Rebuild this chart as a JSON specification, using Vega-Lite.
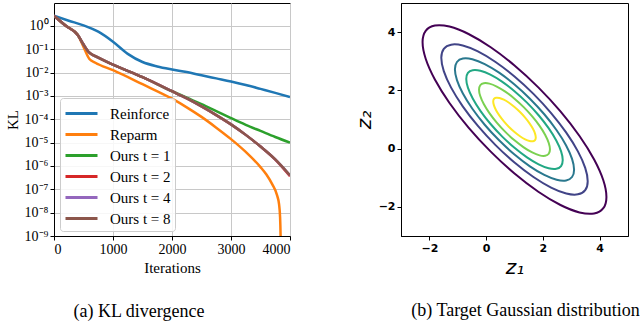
{
  "$schema": "https://vega.github.io/schema/vega-lite/v6.json",
  "background": "white",
  "padding": {"left": 4, "top": 2, "right": 0, "bottom": 0},
  "spacing": 62,
  "resolve": {"scale": {"color": "independent"}, "legend": {"color": "independent"}},
  "datasets": {
    "kl": [
      {"iter": 0, "kl": 2.69, "method": "Reinforce"},
      {"iter": 250, "kl": 1.66, "method": "Reinforce"},
      {"iter": 500, "kl": 1.05, "method": "Reinforce"},
      {"iter": 750, "kl": 0.562, "method": "Reinforce"},
      {"iter": 1000, "kl": 0.209, "method": "Reinforce"},
      {"iter": 1250, "kl": 0.0631, "method": "Reinforce"},
      {"iter": 1500, "kl": 0.0282, "method": "Reinforce"},
      {"iter": 1750, "kl": 0.0182, "method": "Reinforce"},
      {"iter": 2000, "kl": 0.0135, "method": "Reinforce"},
      {"iter": 2250, "kl": 0.0105, "method": "Reinforce"},
      {"iter": 2500, "kl": 0.00759, "method": "Reinforce"},
      {"iter": 2750, "kl": 0.00562, "method": "Reinforce"},
      {"iter": 3000, "kl": 0.00417, "method": "Reinforce"},
      {"iter": 3250, "kl": 0.00295, "method": "Reinforce"},
      {"iter": 3500, "kl": 0.002, "method": "Reinforce"},
      {"iter": 3750, "kl": 0.00135, "method": "Reinforce"},
      {"iter": 4000, "kl": 0.000891, "method": "Reinforce"},

      {"iter": 0, "kl": 2.69, "method": "Reparm"},
      {"iter": 200, "kl": 1.0, "method": "Reparm"},
      {"iter": 400, "kl": 0.417, "method": "Reparm"},
      {"iter": 500, "kl": 0.126, "method": "Reparm"},
      {"iter": 600, "kl": 0.038, "method": "Reparm"},
      {"iter": 700, "kl": 0.0263, "method": "Reparm"},
      {"iter": 1000, "kl": 0.0126, "method": "Reparm"},
      {"iter": 1500, "kl": 0.00316, "method": "Reparm"},
      {"iter": 2000, "kl": 0.000759, "method": "Reparm"},
      {"iter": 2250, "kl": 0.000324, "method": "Reparm"},
      {"iter": 2500, "kl": 0.000126, "method": "Reparm"},
      {"iter": 2750, "kl": 4.37e-5, "method": "Reparm"},
      {"iter": 3000, "kl": 1.41e-5, "method": "Reparm"},
      {"iter": 3250, "kl": 3.98e-6, "method": "Reparm"},
      {"iter": 3500, "kl": 8.91e-7, "method": "Reparm"},
      {"iter": 3600, "kl": 4.27e-7, "method": "Reparm"},
      {"iter": 3700, "kl": 1.62e-7, "method": "Reparm"},
      {"iter": 3780, "kl": 5.62e-8, "method": "Reparm"},
      {"iter": 3815, "kl": 2.24e-8, "method": "Reparm"},
      {"iter": 3832, "kl": 6.31e-9, "method": "Reparm"},
      {"iter": 3842, "kl": 6.31e-10, "method": "Reparm"},
      {"iter": 3846, "kl": 1e-10, "method": "Reparm"},

      {"iter": 0, "kl": 2.69, "method": "Ours t = 1"},
      {"iter": 200, "kl": 1.0, "method": "Ours t = 1"},
      {"iter": 400, "kl": 0.417, "method": "Ours t = 1"},
      {"iter": 500, "kl": 0.158, "method": "Ours t = 1"},
      {"iter": 600, "kl": 0.0708, "method": "Ours t = 1"},
      {"iter": 700, "kl": 0.0501, "method": "Ours t = 1"},
      {"iter": 1000, "kl": 0.0219, "method": "Ours t = 1"},
      {"iter": 1500, "kl": 0.00631, "method": "Ours t = 1"},
      {"iter": 2000, "kl": 0.00158, "method": "Ours t = 1"},
      {"iter": 2250, "kl": 0.000832, "method": "Ours t = 1"},
      {"iter": 2500, "kl": 0.000447, "method": "Ours t = 1"},
      {"iter": 2750, "kl": 0.000224, "method": "Ours t = 1"},
      {"iter": 3000, "kl": 0.000112, "method": "Ours t = 1"},
      {"iter": 3250, "kl": 5.75e-5, "method": "Ours t = 1"},
      {"iter": 3500, "kl": 3.16e-5, "method": "Ours t = 1"},
      {"iter": 3750, "kl": 1.74e-5, "method": "Ours t = 1"},
      {"iter": 4000, "kl": 1e-5, "method": "Ours t = 1"},

      {"iter": 0, "kl": 2.69, "method": "Ours t = 2"},
      {"iter": 200, "kl": 1.0, "method": "Ours t = 2"},
      {"iter": 400, "kl": 0.417, "method": "Ours t = 2"},
      {"iter": 500, "kl": 0.158, "method": "Ours t = 2"},
      {"iter": 600, "kl": 0.0708, "method": "Ours t = 2"},
      {"iter": 700, "kl": 0.0501, "method": "Ours t = 2"},
      {"iter": 1000, "kl": 0.0219, "method": "Ours t = 2"},
      {"iter": 1500, "kl": 0.00631, "method": "Ours t = 2"},
      {"iter": 2000, "kl": 0.00158, "method": "Ours t = 2"},
      {"iter": 2250, "kl": 0.000776, "method": "Ours t = 2"},
      {"iter": 2500, "kl": 0.000355, "method": "Ours t = 2"},
      {"iter": 2750, "kl": 0.000151, "method": "Ours t = 2"},
      {"iter": 3000, "kl": 6.03e-5, "method": "Ours t = 2"},
      {"iter": 3250, "kl": 2.14e-5, "method": "Ours t = 2"},
      {"iter": 3500, "kl": 6.76e-6, "method": "Ours t = 2"},
      {"iter": 3750, "kl": 1.86e-6, "method": "Ours t = 2"},
      {"iter": 4000, "kl": 3.6e-7, "method": "Ours t = 2"},

      {"iter": 0, "kl": 2.69, "method": "Ours t = 4"},
      {"iter": 200, "kl": 1.0, "method": "Ours t = 4"},
      {"iter": 400, "kl": 0.417, "method": "Ours t = 4"},
      {"iter": 500, "kl": 0.158, "method": "Ours t = 4"},
      {"iter": 600, "kl": 0.0708, "method": "Ours t = 4"},
      {"iter": 700, "kl": 0.0501, "method": "Ours t = 4"},
      {"iter": 1000, "kl": 0.0219, "method": "Ours t = 4"},
      {"iter": 1500, "kl": 0.00631, "method": "Ours t = 4"},
      {"iter": 2000, "kl": 0.00158, "method": "Ours t = 4"},
      {"iter": 2250, "kl": 0.000776, "method": "Ours t = 4"},
      {"iter": 2500, "kl": 0.000355, "method": "Ours t = 4"},
      {"iter": 2750, "kl": 0.000151, "method": "Ours t = 4"},
      {"iter": 3000, "kl": 6.03e-5, "method": "Ours t = 4"},
      {"iter": 3250, "kl": 2.14e-5, "method": "Ours t = 4"},
      {"iter": 3500, "kl": 6.76e-6, "method": "Ours t = 4"},
      {"iter": 3750, "kl": 1.91e-6, "method": "Ours t = 4"},
      {"iter": 4000, "kl": 3.98e-7, "method": "Ours t = 4"},

      {"iter": 0, "kl": 2.69, "method": "Ours t = 8"},
      {"iter": 200, "kl": 1.0, "method": "Ours t = 8"},
      {"iter": 400, "kl": 0.417, "method": "Ours t = 8"},
      {"iter": 500, "kl": 0.158, "method": "Ours t = 8"},
      {"iter": 600, "kl": 0.0708, "method": "Ours t = 8"},
      {"iter": 700, "kl": 0.0501, "method": "Ours t = 8"},
      {"iter": 1000, "kl": 0.0219, "method": "Ours t = 8"},
      {"iter": 1500, "kl": 0.00631, "method": "Ours t = 8"},
      {"iter": 2000, "kl": 0.00158, "method": "Ours t = 8"},
      {"iter": 2250, "kl": 0.000776, "method": "Ours t = 8"},
      {"iter": 2500, "kl": 0.000355, "method": "Ours t = 8"},
      {"iter": 2750, "kl": 0.000151, "method": "Ours t = 8"},
      {"iter": 3000, "kl": 6.03e-5, "method": "Ours t = 8"},
      {"iter": 3250, "kl": 2.14e-5, "method": "Ours t = 8"},
      {"iter": 3500, "kl": 6.76e-6, "method": "Ours t = 8"},
      {"iter": 3750, "kl": 1.91e-6, "method": "Ours t = 8"},
      {"iter": 4000, "kl": 3.98e-7, "method": "Ours t = 8"}
    ],
    "ct": [
      {"lv": 0, "i": 0, "z1": 4.24, "z2": -1.657},
      {"lv": 0, "i": 1, "z1": 4.13, "z2": -1.086},
      {"lv": 0, "i": 2, "z1": 3.806, "z2": -0.373},
      {"lv": 0, "i": 3, "z1": 3.291, "z2": 0.433},
      {"lv": 0, "i": 4, "z1": 2.62, "z2": 1.278},
      {"lv": 0, "i": 5, "z1": 1.839, "z2": 2.104},
      {"lv": 0, "i": 6, "z1": 1.0, "z2": 2.855},
      {"lv": 0, "i": 7, "z1": 0.162, "z2": 3.479},
      {"lv": 0, "i": 8, "z1": -0.62, "z2": 3.935},
      {"lv": 0, "i": 9, "z1": -1.291, "z2": 4.19},
      {"lv": 0, "i": 10, "z1": -1.806, "z2": 4.228},
      {"lv": 0, "i": 11, "z1": -2.13, "z2": 4.046},
      {"lv": 0, "i": 12, "z1": -2.24, "z2": 3.657},
      {"lv": 0, "i": 13, "z1": -2.13, "z2": 3.086},
      {"lv": 0, "i": 14, "z1": -1.806, "z2": 2.373},
      {"lv": 0, "i": 15, "z1": -1.291, "z2": 1.567},
      {"lv": 0, "i": 16, "z1": -0.62, "z2": 0.722},
      {"lv": 0, "i": 17, "z1": 0.162, "z2": -0.104},
      {"lv": 0, "i": 18, "z1": 1.0, "z2": -0.855},
      {"lv": 0, "i": 19, "z1": 1.839, "z2": -1.479},
      {"lv": 0, "i": 20, "z1": 2.62, "z2": -1.935},
      {"lv": 0, "i": 21, "z1": 3.291, "z2": -2.19},
      {"lv": 0, "i": 22, "z1": 3.806, "z2": -2.228},
      {"lv": 0, "i": 23, "z1": 4.13, "z2": -2.046},

      {"lv": 1, "i": 0, "z1": 3.58, "z2": -1.116},
      {"lv": 1, "i": 1, "z1": 3.492, "z2": -0.661},
      {"lv": 1, "i": 2, "z1": 3.234, "z2": -0.094},
      {"lv": 1, "i": 3, "z1": 2.824, "z2": 0.548},
      {"lv": 1, "i": 4, "z1": 2.29, "z2": 1.221},
      {"lv": 1, "i": 5, "z1": 1.668, "z2": 1.879},
      {"lv": 1, "i": 6, "z1": 1.0, "z2": 2.477},
      {"lv": 1, "i": 7, "z1": 0.332, "z2": 2.974},
      {"lv": 1, "i": 8, "z1": -0.29, "z2": 3.337},
      {"lv": 1, "i": 9, "z1": -0.824, "z2": 3.54},
      {"lv": 1, "i": 10, "z1": -1.234, "z2": 3.57},
      {"lv": 1, "i": 11, "z1": -1.492, "z2": 3.425},
      {"lv": 1, "i": 12, "z1": -1.58, "z2": 3.116},
      {"lv": 1, "i": 13, "z1": -1.492, "z2": 2.661},
      {"lv": 1, "i": 14, "z1": -1.234, "z2": 2.094},
      {"lv": 1, "i": 15, "z1": -0.824, "z2": 1.452},
      {"lv": 1, "i": 16, "z1": -0.29, "z2": 0.779},
      {"lv": 1, "i": 17, "z1": 0.332, "z2": 0.121},
      {"lv": 1, "i": 18, "z1": 1.0, "z2": -0.477},
      {"lv": 1, "i": 19, "z1": 1.668, "z2": -0.974},
      {"lv": 1, "i": 20, "z1": 2.29, "z2": -1.337},
      {"lv": 1, "i": 21, "z1": 2.824, "z2": -1.54},
      {"lv": 1, "i": 22, "z1": 3.234, "z2": -1.57},
      {"lv": 1, "i": 23, "z1": 3.492, "z2": -1.425},

      {"lv": 2, "i": 0, "z1": 3.1, "z2": -0.722},
      {"lv": 2, "i": 1, "z1": 3.028, "z2": -0.352},
      {"lv": 2, "i": 2, "z1": 2.819, "z2": 0.11},
      {"lv": 2, "i": 3, "z1": 2.485, "z2": 0.632},
      {"lv": 2, "i": 4, "z1": 2.05, "z2": 1.18},
      {"lv": 2, "i": 5, "z1": 1.543, "z2": 1.715},
      {"lv": 2, "i": 6, "z1": 1.0, "z2": 2.202},
      {"lv": 2, "i": 7, "z1": 0.457, "z2": 2.607},
      {"lv": 2, "i": 8, "z1": -0.05, "z2": 2.902},
      {"lv": 2, "i": 9, "z1": -0.485, "z2": 3.067},
      {"lv": 2, "i": 10, "z1": -0.819, "z2": 3.092},
      {"lv": 2, "i": 11, "z1": -1.028, "z2": 2.974},
      {"lv": 2, "i": 12, "z1": -1.1, "z2": 2.722},
      {"lv": 2, "i": 13, "z1": -1.028, "z2": 2.352},
      {"lv": 2, "i": 14, "z1": -0.819, "z2": 1.89},
      {"lv": 2, "i": 15, "z1": -0.485, "z2": 1.368},
      {"lv": 2, "i": 16, "z1": -0.05, "z2": 0.82},
      {"lv": 2, "i": 17, "z1": 0.457, "z2": 0.285},
      {"lv": 2, "i": 18, "z1": 1.0, "z2": -0.202},
      {"lv": 2, "i": 19, "z1": 1.543, "z2": -0.607},
      {"lv": 2, "i": 20, "z1": 2.05, "z2": -0.902},
      {"lv": 2, "i": 21, "z1": 2.485, "z2": -1.067},
      {"lv": 2, "i": 22, "z1": 2.819, "z2": -1.092},
      {"lv": 2, "i": 23, "z1": 3.028, "z2": -0.974},

      {"lv": 3, "i": 0, "z1": 2.7, "z2": -0.394},
      {"lv": 3, "i": 1, "z1": 2.642, "z2": -0.095},
      {"lv": 3, "i": 2, "z1": 2.472, "z2": 0.279},
      {"lv": 3, "i": 3, "z1": 2.202, "z2": 0.702},
      {"lv": 3, "i": 4, "z1": 1.85, "z2": 1.146},
      {"lv": 3, "i": 5, "z1": 1.44, "z2": 1.579},
      {"lv": 3, "i": 6, "z1": 1.0, "z2": 1.973},
      {"lv": 3, "i": 7, "z1": 0.56, "z2": 2.301},
      {"lv": 3, "i": 8, "z1": 0.15, "z2": 2.54},
      {"lv": 3, "i": 9, "z1": -0.202, "z2": 2.674},
      {"lv": 3, "i": 10, "z1": -0.472, "z2": 2.694},
      {"lv": 3, "i": 11, "z1": -0.642, "z2": 2.598},
      {"lv": 3, "i": 12, "z1": -0.7, "z2": 2.394},
      {"lv": 3, "i": 13, "z1": -0.642, "z2": 2.095},
      {"lv": 3, "i": 14, "z1": -0.472, "z2": 1.721},
      {"lv": 3, "i": 15, "z1": -0.202, "z2": 1.298},
      {"lv": 3, "i": 16, "z1": 0.15, "z2": 0.854},
      {"lv": 3, "i": 17, "z1": 0.56, "z2": 0.421},
      {"lv": 3, "i": 18, "z1": 1.0, "z2": 0.027},
      {"lv": 3, "i": 19, "z1": 1.44, "z2": -0.301},
      {"lv": 3, "i": 20, "z1": 1.85, "z2": -0.54},
      {"lv": 3, "i": 21, "z1": 2.202, "z2": -0.674},
      {"lv": 3, "i": 22, "z1": 2.472, "z2": -0.694},
      {"lv": 3, "i": 23, "z1": 2.642, "z2": -0.598},

      {"lv": 4, "i": 0, "z1": 2.25, "z2": -0.025},
      {"lv": 4, "i": 1, "z1": 2.207, "z2": 0.195},
      {"lv": 4, "i": 2, "z1": 2.083, "z2": 0.47},
      {"lv": 4, "i": 3, "z1": 1.884, "z2": 0.781},
      {"lv": 4, "i": 4, "z1": 1.625, "z2": 1.107},
      {"lv": 4, "i": 5, "z1": 1.324, "z2": 1.426},
      {"lv": 4, "i": 6, "z1": 1.0, "z2": 1.716},
      {"lv": 4, "i": 7, "z1": 0.676, "z2": 1.956},
      {"lv": 4, "i": 8, "z1": 0.375, "z2": 2.132},
      {"lv": 4, "i": 9, "z1": 0.116, "z2": 2.231},
      {"lv": 4, "i": 10, "z1": -0.083, "z2": 2.245},
      {"lv": 4, "i": 11, "z1": -0.207, "z2": 2.175},
      {"lv": 4, "i": 12, "z1": -0.25, "z2": 2.025},
      {"lv": 4, "i": 13, "z1": -0.207, "z2": 1.805},
      {"lv": 4, "i": 14, "z1": -0.083, "z2": 1.53},
      {"lv": 4, "i": 15, "z1": 0.116, "z2": 1.219},
      {"lv": 4, "i": 16, "z1": 0.375, "z2": 0.893},
      {"lv": 4, "i": 17, "z1": 0.676, "z2": 0.574},
      {"lv": 4, "i": 18, "z1": 1.0, "z2": 0.284},
      {"lv": 4, "i": 19, "z1": 1.324, "z2": 0.044},
      {"lv": 4, "i": 20, "z1": 1.625, "z2": -0.132},
      {"lv": 4, "i": 21, "z1": 1.884, "z2": -0.231},
      {"lv": 4, "i": 22, "z1": 2.083, "z2": -0.245},
      {"lv": 4, "i": 23, "z1": 2.207, "z2": -0.175},

      {"lv": 5, "i": 0, "z1": 1.75, "z2": 0.385},
      {"lv": 5, "i": 1, "z1": 1.724, "z2": 0.517},
      {"lv": 5, "i": 2, "z1": 1.65, "z2": 0.682},
      {"lv": 5, "i": 3, "z1": 1.53, "z2": 0.869},
      {"lv": 5, "i": 4, "z1": 1.375, "z2": 1.064},
      {"lv": 5, "i": 5, "z1": 1.194, "z2": 1.256},
      {"lv": 5, "i": 6, "z1": 1.0, "z2": 1.429},
      {"lv": 5, "i": 7, "z1": 0.806, "z2": 1.574},
      {"lv": 5, "i": 8, "z1": 0.625, "z2": 1.679},
      {"lv": 5, "i": 9, "z1": 0.47, "z2": 1.738},
      {"lv": 5, "i": 10, "z1": 0.35, "z2": 1.747},
      {"lv": 5, "i": 11, "z1": 0.276, "z2": 1.705},
      {"lv": 5, "i": 12, "z1": 0.25, "z2": 1.615},
      {"lv": 5, "i": 13, "z1": 0.276, "z2": 1.483},
      {"lv": 5, "i": 14, "z1": 0.35, "z2": 1.318},
      {"lv": 5, "i": 15, "z1": 0.47, "z2": 1.131},
      {"lv": 5, "i": 16, "z1": 0.625, "z2": 0.936},
      {"lv": 5, "i": 17, "z1": 0.806, "z2": 0.744},
      {"lv": 5, "i": 18, "z1": 1.0, "z2": 0.571},
      {"lv": 5, "i": 19, "z1": 1.194, "z2": 0.426},
      {"lv": 5, "i": 20, "z1": 1.375, "z2": 0.321},
      {"lv": 5, "i": 21, "z1": 1.53, "z2": 0.262},
      {"lv": 5, "i": 22, "z1": 1.65, "z2": 0.253},
      {"lv": 5, "i": 23, "z1": 1.724, "z2": 0.295}
    ]
  },
  "hconcat": [
    {
      "width": 236,
      "height": 233,
      "data": {"name": "kl"},
      "title": {"text": "(a) KL divergence", "orient": "bottom", "anchor": "middle", "font": "Liberation Serif", "fontSize": 18, "fontWeight": "normal", "color": "black", "offset": 28, "dx": -33},
      "mark": {"type": "line", "strokeWidth": 2.5, "interpolate": "monotone", "clip": true},
      "encoding": {
        "x": {"field": "iter", "type": "quantitative", "scale": {"domain": [0, 4000], "nice": false},
              "axis": {"values": [0, 1000, 2000, 3000, 4000], "format": "d", "title": "Iterations", "grid": true}},
        "y": {"field": "kl", "type": "quantitative", "scale": {"type": "log", "domain": [1e-9, 9.5], "nice": false},
              "axis": {"values": [1e-9, 1e-8, 1e-7, 1e-6, 1e-5, 1e-4, 1e-3, 1e-2, 1e-1, 1], "grid": true, "title": "KL",
                       "labelExpr": "['10⁰','10⁻¹','10⁻²','10⁻³','10⁻⁴','10⁻⁵','10⁻⁶','10⁻⁷','10⁻⁸','10⁻⁹'][round(-log(datum.value)/LN10)]"}},
        "color": {"field": "method", "type": "nominal",
                  "scale": {"domain": ["Reinforce", "Reparm", "Ours t = 1", "Ours t = 2", "Ours t = 4", "Ours t = 8"],
                            "range": ["#1f77b4", "#ff7f0e", "#2ca02c", "#d62728", "#9467bd", "#8c564b"]},
                  "legend": {"title": null, "orient": "none", "legendX": 6, "legendY": 95,
                             "labelFont": "Liberation Serif", "labelFontSize": 15, "labelColor": "black",
                             "symbolType": "M-1.6,0L1.6,0", "symbolSize": 400, "symbolStrokeWidth": 3,
                             "symbolOffset": 6, "labelOffset": 17, "rowPadding": 1, "padding": 4,
                             "fillColor": "rgba(255,255,255,0.85)", "strokeColor": "#cccccc", "cornerRadius": 3}}
      }
    },
    {
      "width": 227,
      "height": 233,
      "data": {"name": "ct"},
      "title": {"text": "(b) Target Gaussian distribution", "orient": "bottom", "anchor": "middle", "font": "Liberation Serif", "fontSize": 18, "fontWeight": "normal", "color": "black", "offset": 25, "dx": 11},
      "mark": {"type": "line", "interpolate": "cardinal-closed", "strokeWidth": 2},
      "encoding": {
        "x": {"field": "z1", "type": "quantitative", "scale": {"domain": [-3, 5], "nice": false, "zero": false},
              "axis": {"values": [-2, 0, 2, 4], "title": "z₁", "grid": false, "labelFont": "DejaVu Sans", "labelFontWeight": "bold", "labelFontSize": 11,
                       "titleFont": "DejaVu Sans", "titleFontStyle": "italic", "titleFontWeight": "normal", "titleFontSize": 20}},
        "y": {"field": "z2", "type": "quantitative", "scale": {"domain": [-3, 5], "nice": false, "zero": false},
              "axis": {"values": [-2, 0, 2, 4], "title": "z₂", "grid": false, "labelFont": "DejaVu Sans", "labelFontWeight": "bold", "labelFontSize": 11,
                       "titleFont": "DejaVu Sans", "titleFontStyle": "italic", "titleFontWeight": "normal", "titleFontSize": 20}},
        "color": {"field": "lv", "type": "nominal", "scale": {"domain": [0, 1, 2, 3, 4, 5], "range": ["#440154", "#414487", "#2a788e", "#22a884", "#7ad151", "#fde725"]}, "legend": null},
        "order": {"field": "i", "type": "quantitative"}
      }
    }
  ],
  "config": {
    "view": {"stroke": "black", "strokeWidth": 1},
    "legend": {"labelFont": "Liberation Serif", "labelFontSize": 15},
    "axis": {"tickColor": "black", "domainColor": "black", "labelColor": "black", "titleColor": "black", "tickSize": 4,
             "labelFont": "Liberation Serif", "labelFontSize": 14, "titleFont": "Liberation Serif", "titleFontSize": 15, "titleFontWeight": "normal",
             "gridColor": "#c8c8c8", "gridWidth": 1, "gridOpacity": 1}
  }
}
